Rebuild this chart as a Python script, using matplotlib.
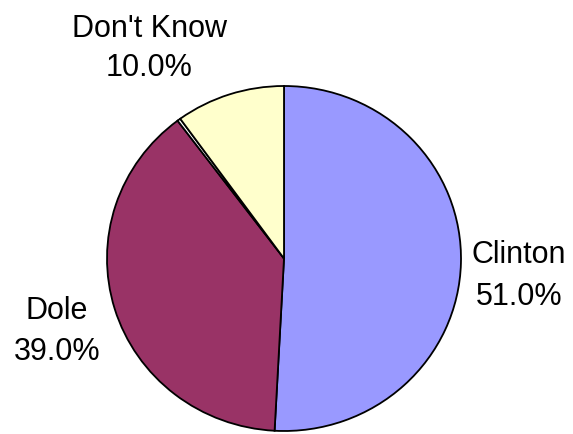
import matplotlib
matplotlib.use('Agg')
from matplotlib import pyplot as plt

# Poll results
labels = ["Clinton", "Dole", "", "Don't Know"]
shares = [51.0, 39.0, 0.3, 10.0]
colors = ['#9999ff', '#993366', '#ffffff', '#ffffcc']

plt.rcParams['font.family'] = ['Liberation Sans', 'DejaVu Sans']

W, H = 573, 435
# the pie is slightly squashed vertically
k = 177 / 172.5


def py(y):
    # pixel row (from top) -> data y
    return (H - y) * k


fig = plt.figure(figsize=(W / 100, H / 100), dpi=100)
ax = fig.add_axes([0, 0, 1, 1])

# Pie drawn clockwise from 12 o'clock
ax.pie(shares, colors=colors, startangle=90, counterclock=False,
       center=(284, py(259.5)), radius=177, frame=True,
       wedgeprops={'edgecolor': 'black', 'linewidth': 1.3})
ax.set_aspect('auto')
ax.set_xlim(0, W)
ax.set_ylim(0, H * k)
ax.axis('off')

# Category name and percentage as two lines beside each slice
label_pos = {"Clinton": (519, 263, 305), "Dole": (57, 319, 360),
             "Don't Know": (149, 37, 76)}
for name, value in zip(labels, shares):
    if not name:
        continue
    x, y1, y2 = label_pos[name]
    ax.text(x, py(y1), name, ha='center', va='baseline', fontsize=22)
    ax.text(x, py(y2), f'{value:.1f}%', ha='center', va='baseline', fontsize=22)

fig.savefig('out.png', dpi=100)
